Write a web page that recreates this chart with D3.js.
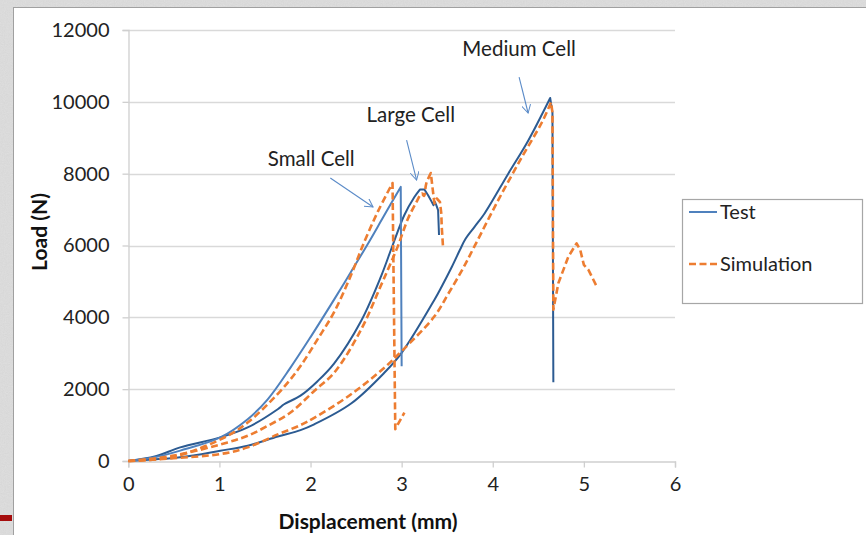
<!DOCTYPE html>
<html><head><meta charset="utf-8">
<script src="https://cdn.jsdelivr.net/npm/d3@7"></script>
<style>body{margin:0;overflow:hidden;background:#fff}text{font-family:Lato,"Open Sans",sans-serif}</style>
</head><body>
<svg id="c" width="866" height="535"></svg>
<script>
// ---------- data ----------
const xTicks = [0, 1, 2, 3, 4, 5, 6];
const yTicks = [0, 2000, 4000, 6000, 8000, 10000, 12000];
const seriesNames = ["Test", "Simulation"];

const smallTestX = [0, 0.3, 0.57, 1.01, 1.31, 1.53, 1.78, 2.0, 2.26, 2.44, 2.63, 2.8, 2.99, 3.0];
const smallTestY = [0, 110, 290, 657, 1164, 1718, 2600, 3450, 4500, 5250, 6050, 6800, 7632, 2640];

const smallSimX = [0, 0.5, 1.09, 1.31, 1.53, 1.75, 1.9, 2.08, 2.26, 2.44, 2.59, 2.74, 2.9, 2.93, 3.03];
const smallSimY = [0, 120, 700, 1072, 1580, 2180, 2680, 3400, 4150, 5150, 6100, 6950, 7740, 887, 1349];

const largeTestX = [0, 0.3, 0.57, 1.01, 1.31, 1.64, 1.71, 1.89, 2.08, 2.26, 2.555, 2.775, 2.9, 3.03, 3.14, 3.2, 3.25, 3.29, 3.33, 3.35, 3.365, 3.38, 3.4, 3.41];
const largeTestY = [0, 130, 380, 657, 934, 1441, 1580, 1820, 2230, 2720, 3900, 5150, 6000, 6850, 7350, 7558, 7558, 7400, 7215, 7123, 7215, 7123, 6984, 6292];

const largeSimX = [0, 0.5, 1.09, 1.31, 1.53, 1.78, 2.04, 2.26, 2.555, 2.775, 2.87, 2.96, 3.07, 3.16, 3.22, 3.245, 3.27, 3.32, 3.34, 3.36, 3.385, 3.42, 3.435, 3.44, 3.455];
const largeSimY = [0, 150, 518, 701, 980, 1350, 1950, 2458, 3659, 4900, 5450, 5990, 6750, 7200, 7450, 7380, 7724, 8018, 7585, 7169, 7308, 7215, 6892, 6522, 5923];

const mediumTestX = [0, 0.57, 1.01, 1.31, 1.64, 1.89, 2.04, 2.445, 2.81, 3.0, 3.36, 3.44, 3.55, 3.64, 3.7, 3.8, 3.91, 4.17, 4.39, 4.63, 4.655, 4.665];
const mediumTestY = [0, 102, 286, 425, 680, 860, 1020, 1600, 2458, 3012, 4490, 4860, 5400, 5880, 6180, 6520, 6892, 8000, 8925, 10107, 9700, 2190];

const mediumSimX = [0, 1.01, 1.31, 1.64, 1.89, 2.04, 2.445, 2.81, 3.0, 3.36, 3.51, 3.66, 3.8, 4.06, 4.32, 4.54, 4.64, 4.655, 4.665, 4.72, 4.83, 4.92, 4.96, 5.0, 5.05, 5.15];
const mediumSimY = [0, 194, 379, 740, 1000, 1200, 1857, 2597, 3057, 4028, 4650, 5300, 5980, 7262, 8462, 9432, 9986, 9700, 4213, 4953, 5690, 6061, 5876, 5460, 5320, 4814];

// annotations: label, text anchor (x,y), arrow start, arrow end (data units)
const annoLabels = ["Small Cell", "Large Cell", "Medium Cell"];
const annoTextX = [2.008, 3.10, 4.289];
const annoTextY = [8213, 9438, 11276];
const annoFromX = [2.217, 3.054, 4.289];
const annoFromY = [7879, 8937, 10691];
const annoToX = [2.686, 3.164, 4.388];
const annoToY = [7072, 7823, 9689];

// ---------- drawing ----------
const svg = d3.select("#c");
const W = 866, H = 535;
const defs = svg.append("defs");
const f = defs.append("filter").attr("id", "noise").attr("x", 0).attr("y", 0).attr("width", "100%").attr("height", "100%");
f.append("feTurbulence").attr("type", "fractalNoise").attr("baseFrequency", 0.9).attr("numOctaves", 2).attr("seed", 3).attr("result", "t");
f.append("feColorMatrix").attr("type", "matrix")
  .attr("values", "0 0 0 0 0.78  0 0 0 0 0.78  0 0 0 0 0.78  0.5 0.5 0 0 -0.2");
defs.append("marker").attr("id", "arr").attr("viewBox", "0 0 10 10").attr("refX", 9).attr("refY", 5)
  .attr("markerWidth", 9).attr("markerHeight", 9).attr("orient", "auto").attr("markerUnits", "userSpaceOnUse")
  .append("path").attr("d", "M0,0 L9,5 L0,10").attr("fill", "none").attr("stroke", "#5b8bc8").attr("stroke-width", 1.1);

svg.append("rect").attr("width", W).attr("height", H).attr("fill", "#d6d6d6");
svg.append("rect").attr("width", W).attr("height", H).attr("filter", "url(#noise)");
svg.append("rect").attr("x", 13.5).attr("y", 7.5).attr("width", W).attr("height", H).attr("fill", "#fff").attr("stroke", "#a0a0a0");
svg.append("rect").attr("x", 0).attr("y", 515).attr("width", 12).attr("height", 6).attr("fill", "#a50d0d");

const x = d3.scaleLinear().domain([0, 6]).range([128.3, 675]);
const y = d3.scaleLinear().domain([0, 12000]).range([461, 30]);

// gridlines
svg.append("g").selectAll("line").data(yTicks.filter(v => v > 0)).join("line")
  .attr("x1", x(0)).attr("x2", x(6)).attr("y1", d => Math.round(y(d)) + 0.5).attr("y2", d => Math.round(y(d)) + 0.5)
  .attr("stroke", "#d9d9d9").attr("stroke-width", 1.3);

const ax = svg.append("g").attr("transform", `translate(0,${Math.round(y(0)) + 0.5})`)
  .call(d3.axisBottom(x).tickValues(xTicks).tickSize(6).tickPadding(9).tickFormat(d3.format("d")));
const ay = svg.append("g").attr("transform", `translate(${Math.round(x(0)) + 0.5},0)`)
  .call(d3.axisLeft(y).tickValues(yTicks).tickSize(6).tickPadding(13).tickFormat(d3.format("d")));
[ax, ay].forEach(g => {
  g.select(".domain").attr("stroke", "#cfcfcf").attr("stroke-width", 1.3);
  g.selectAll(".tick line").attr("stroke", "#cfcfcf").attr("stroke-width", 1.3);
  g.selectAll(".tick text").attr("font-size", 20).attr("fill", "#222").style("font-family", "Lato");
});

svg.append("text").attr("x", 368).attr("y", 529).attr("text-anchor", "middle")
  .attr("font-size", 21).attr("font-weight", "bold").attr("fill", "#111").text("Displacement (mm)");
svg.append("text").attr("transform", "translate(47,232) rotate(-90)").attr("text-anchor", "middle")
  .attr("font-size", 21).attr("font-weight", "bold").attr("fill", "#111").text("Load (N)");

const smooth = d3.line().x(d => x(d[0])).y(d => y(d[1])).curve(d3.curveCatmullRom.alpha(0.5));
const straight = d3.line().x(d => x(d[0])).y(d => y(d[1]));
const zip = (a, b) => a.map((v, i) => [v, b[i]]);
// smooth rising part up to the peak, straight segments after it
const pathFor = pts => {
  const k = d3.maxIndex(pts, p => p[1]);
  return smooth(pts.slice(0, k + 1)) + straight(pts.slice(k)).replace(/^M/, "L");
};
const series = [
  {d: zip(mediumSimX, mediumSimY), sim: true},
  {d: zip(largeSimX, largeSimY), sim: true},
  {d: zip(smallSimX, smallSimY), sim: true},
  {d: zip(mediumTestX, mediumTestY), sim: false, c: "#2c5b92"},
  {d: zip(largeTestX, largeTestY), sim: false, c: "#2c5b92"},
  {d: zip(smallTestX, smallTestY), sim: false, c: "#4f81bd"}
];
const order = [3, 4, 5, 0, 1, 2];
order.forEach(i => {
  const s = series[i];
  svg.append("path").attr("d", pathFor(s.d)).attr("fill", "none")
    .attr("stroke", s.sim ? "#ed7d31" : s.c)
    .attr("stroke-width", s.sim ? 2.6 : 2)
    .attr("stroke-dasharray", s.sim ? "7,3.5" : null)
    .attr("stroke-linejoin", "round");
});

// annotations
annoLabels.forEach((t, i) => {
  svg.append("text").attr("x", x(annoTextX[i])).attr("y", y(annoTextY[i])).attr("text-anchor", "middle")
    .attr("font-size", 20.5).attr("fill", "#222").text(t);
  svg.append("line").attr("x1", x(annoFromX[i])).attr("y1", y(annoFromY[i]))
    .attr("x2", x(annoToX[i])).attr("y2", y(annoToY[i]))
    .attr("stroke", "#5b8bc8").attr("stroke-width", 1.1).attr("marker-end", "url(#arr)");
});

// legend
const lg = svg.append("g");
lg.append("rect").attr("x", 682.5).attr("y", 199.5).attr("width", 180).attr("height", 104)
  .attr("fill", "#fff").attr("stroke", "#a6a6a6").attr("stroke-width", 1.2);
seriesNames.forEach((n, i) => {
  const yy = 212 + i * 52;
  lg.append("line").attr("x1", 689).attr("x2", 717).attr("y1", yy).attr("y2", yy)
    .attr("stroke", i ? "#ed7d31" : "#4f81bd").attr("stroke-width", i ? 2.6 : 2)
    .attr("stroke-dasharray", i ? "7,3.5" : null);
  lg.append("text").attr("x", 720).attr("y", yy).attr("dy", "0.35em").attr("font-size", 20)
    .attr("fill", "#222").text(n);
});
</script>
</body></html>
